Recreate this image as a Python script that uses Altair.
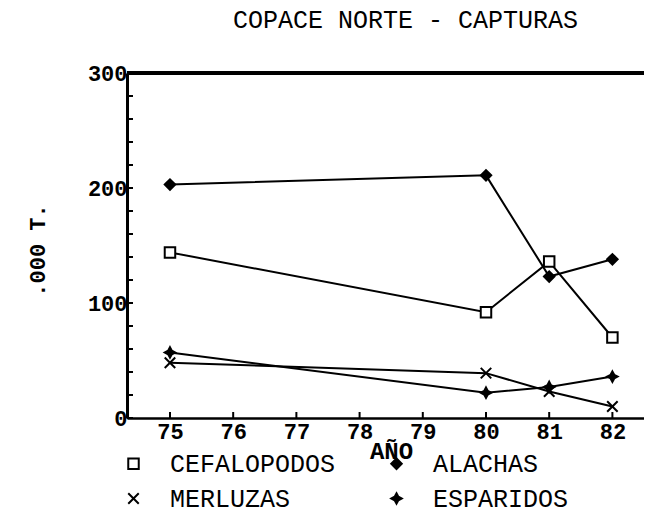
import altair as alt
import pandas as pd

# ---- data ----
years = [75, 80, 81, 82]
series_names = ["CEFALOPODOS", "ALACHAS", "MERLUZAS", "ESPARIDOS"]
cefalopodos = [144, 92, 136, 70]
alachas = [203, 211, 123, 138]
merluzas = [48, 39, 23, 10]
esparidos = [57, 22, 27, 36]

x_tick_values = [75, 76, 77, 78, 79, 80, 81, 82]
y_label_values = [0, 100, 200, 300]
y_minor_ticks = [0, 20, 40, 60, 80, 100, 120, 140, 160, 180, 200, 220, 240, 260, 280]
top_frame = [300]

rows = []
for name, vals in zip(series_names, [cefalopodos, alachas, merluzas, esparidos]):
    for yr, v in zip(years, vals):
        rows.append({"anio": yr, "serie": name, "valor": v})
df = pd.DataFrame(rows)

FONT = "Liberation Mono"
W, H = 517, 345

xscale = alt.Scale(domain=[74.32, 82.5], nice=False, zero=False)
yscale = alt.Scale(domain=[0, 300], nice=False, zero=True)

x_axis = alt.Axis(
    values=x_tick_values, format="d", title="AÑO", grid=False, ticks=False,
    labelFont=FONT, labelFontWeight="bold", labelFontSize=22, labelColor="black",
    labelPadding=3, labelFlush=False,
    domainColor="black", domainWidth=2.5,
    titleFont=FONT, titleFontWeight="bold", titleFontSize=24, titleColor="black",
    titleX=264, titleY=21, titleBaseline="top", titleAlign="center",
)
y_axis = alt.Axis(
    values=y_label_values, title=".000 T.", grid=False, ticks=False,
    labelFont=FONT, labelFontWeight="bold", labelFontSize=22, labelColor="black",
    labelPadding=0,
    domainColor="black", domainWidth=3,
    titleFont=FONT, titleFontWeight="bold", titleFontSize=22, titleColor="black",
    titleX=-90, titleY=177, titleAngle=270, titleAlign="center", titleBaseline="middle",
)

shape_range = [
    "square",
    "diamond",
    "M-1,-1L1,1M-1,1L1,-1",
    "M0,-1L0.35,-0.35L1,0L0.35,0.35L0,1L-0.35,0.35L-1,0L-0.35,-0.35Z",
]
fill_range = ["white", "black", "black", "black"]
stroke_range = ["black", "black", "black", "black"]

legend = alt.Legend(
    title=None, orient="none", legendX=-6, legendY=378, columns=2, direction="horizontal",
    labelFont=FONT, labelFontSize=25, labelColor="black", labelOffset=24, labelLimit=400,
    symbolSize=110, symbolStrokeWidth=2,
    columnPadding=48, rowPadding=9, padding=0,
)

X = alt.X("anio:Q", scale=xscale, axis=x_axis)
Y = alt.Y("valor:Q", scale=yscale, axis=y_axis)

lines = alt.Chart(df).mark_line(color="black", strokeWidth=2).encode(
    x=X, y=Y, detail="serie:N"
)
points = alt.Chart(df).mark_point(
    strokeWidth=2, opacity=1, fillOpacity=1, size=110
).encode(
    x=X, y=Y,
    shape=alt.Shape("serie:N", scale=alt.Scale(domain=series_names, range=shape_range), legend=legend),
    fill=alt.Fill("serie:N", scale=alt.Scale(domain=series_names, range=fill_range), legend=legend),
    stroke=alt.Stroke("serie:N", scale=alt.Scale(domain=series_names, range=stroke_range), legend=legend),
)

top_rule = alt.Chart(pd.DataFrame({"v": top_frame})).mark_rule(color="black", strokeWidth=4).encode(
    y=alt.Y("v:Q", scale=yscale, axis=y_axis)
)
y_ticks = alt.Chart(pd.DataFrame({"valor": y_minor_ticks})).mark_rule(color="black", strokeWidth=2).encode(
    y=alt.Y("valor:Q", scale=yscale, axis=y_axis), x=alt.value(0), x2=alt.value(6)
)
x_ticks = alt.Chart(pd.DataFrame({"anio": x_tick_values})).mark_rule(color="black", strokeWidth=2).encode(
    x=alt.X("anio:Q", scale=xscale, axis=x_axis), y=alt.value(H), y2=alt.value(H - 6)
)

chart = alt.layer(lines, points, top_rule, y_ticks, x_ticks).properties(
    width=W, height=H,
    title=alt.TitleParams(
        "COPACE NORTE - CAPTURAS", font=FONT, fontSize=25, fontWeight="normal",
        color="black", anchor="middle", dx=20, offset=29,
    ),
    autosize=alt.AutoSizeParams(type="none"),
    padding={"left": 119, "top": 65, "right": 0, "bottom": 100},
).configure_view(stroke=None).configure(background="white")

chart.save("out.html", embed_options={"renderer": "svg", "actions": False})
